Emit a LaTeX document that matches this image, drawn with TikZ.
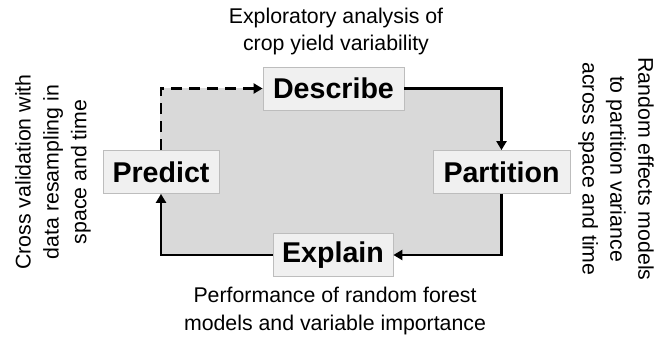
\documentclass[tikz,border=0pt]{standalone}
\usepackage{fontspec}
\setmainfont{Liberation Sans}
\usetikzlibrary{arrows.meta}
\definecolor{boxfill}{HTML}{F0F0F0}
\definecolor{boxline}{HTML}{BDBDBD}
\definecolor{areafill}{HTML}{D9D9D9}
\tikzset{
  stagebox/.style={draw=boxline, fill=boxfill, line width=0.8pt, inner sep=0pt,
    minimum height=43pt, font=\fontsize{28.6}{30}\selectfont\bfseries},
  caption/.style={align=center, inner sep=0pt, font=\fontsize{21.3}{27.8}\selectfont},
  flow/.style={line width=2.9pt, -{Triangle[length=9pt,width=10pt]}},
  dashflow/.style={flow, dash pattern=on 11pt off 7pt}
}
\begin{document}
\begin{tikzpicture}[x=1pt,y=-1pt]
\useasboundingbox (0,0) rectangle (670,339);
\coordinate (tl) at (160,88);
\coordinate (br) at (502,256);
\fill[areafill] (tl) rectangle (br);
\node[stagebox, minimum width=141pt] (D) at (333.5,88.5) {Describe};
\node[stagebox, minimum width=116pt] (Pr) at (161,172) {Predict};
\node[stagebox, minimum width=137pt] (Pa) at (501.5,172) {Partition};
\node[stagebox, minimum width=120pt] (E) at (333,255) {Explain};
\draw[flow] (D.east) -| (Pa.north);
\draw[flow] (Pa.south) |- (E.east);
\draw[flow] (E.west) -| (Pr.south);
\draw[dashflow] (Pr.north) |- (D.west);
\node[caption] (ct) at (336,31.5) {Exploratory analysis of\\crop yield variability};
\node[caption] (cb) at (335,311) {Performance of random forest\\models and variable importance};
\node[caption, rotate=90] (cl) at (53,172) {Cross validation with\\data resampling in\\space and time};
\node[caption, rotate=-90] (cr) at (616,169) {Random effects models\\to partition variance\\across space and time};
\end{tikzpicture}
\end{document}
